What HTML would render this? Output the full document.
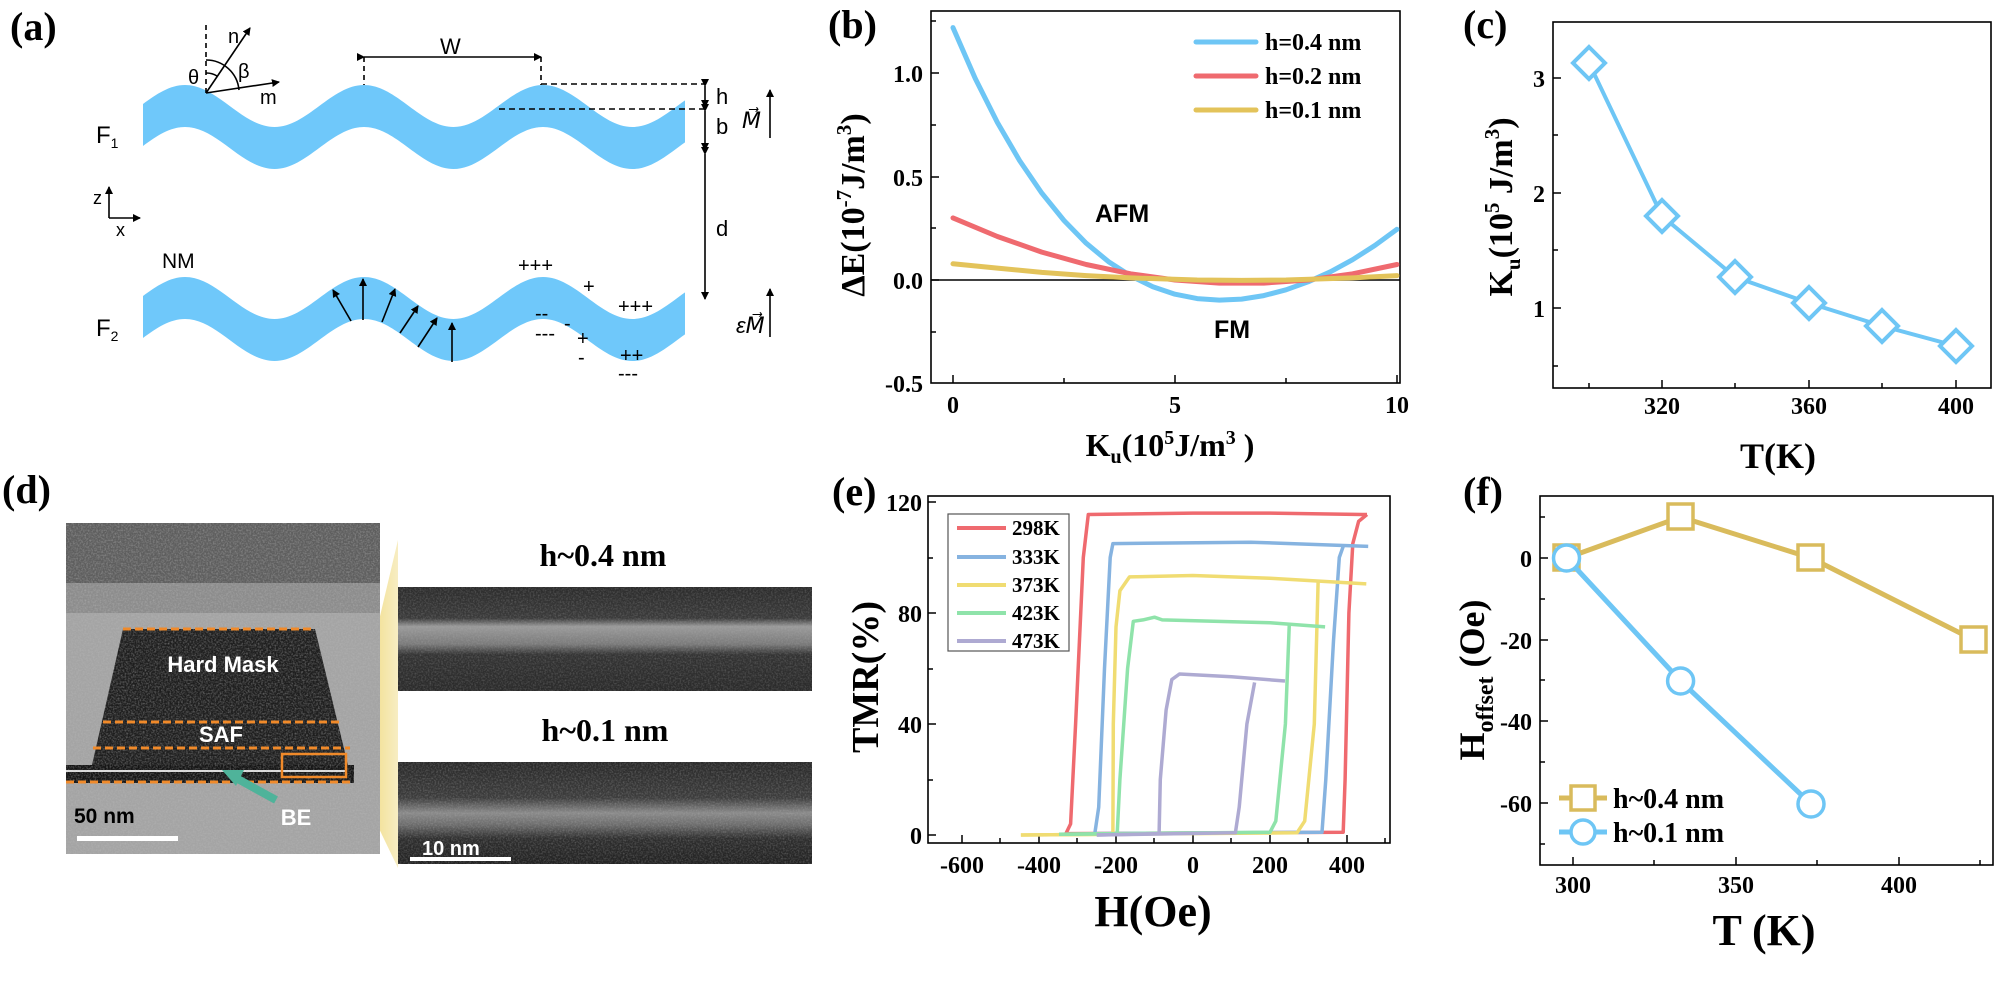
<!DOCTYPE html>
<html><head><meta charset="utf-8"><style>
html,body{margin:0;padding:0;background:#fff}
svg{display:block}
.s{font-family:"Liberation Serif",serif;font-weight:bold}
.a{font-family:"Liberation Sans",sans-serif}
</style></head><body>
<svg width="2000" height="982" viewBox="0 0 2000 982" xmlns="http://www.w3.org/2000/svg">
<defs>
<clipPath id="wc"><rect x="143" y="0" width="542" height="982"/></clipPath>
<marker id="ah" markerWidth="8" markerHeight="8" refX="7" refY="4" orient="auto" markerUnits="userSpaceOnUse"><path d="M0,0 L8,4 L0,8 Z" fill="#000"/></marker>
<filter id="nz" x="0" y="0" width="100%" height="100%"><feTurbulence type="fractalNoise" baseFrequency="0.6" numOctaves="2" seed="3"/><feColorMatrix type="matrix" values="0 0 0 0 0.5 0 0 0 0 0.5 0 0 0 0 0.5 0 0 0 -0.9 0.55"/></filter>
<linearGradient id="wedge" x1="0" y1="0" x2="1" y2="0"><stop offset="0" stop-color="#e8c840"/><stop offset="1" stop-color="#f6eab8"/></linearGradient>
<linearGradient id="img1" x1="0" y1="0" x2="0" y2="1"><stop offset="0" stop-color="#2c2c2c"/><stop offset="0.3" stop-color="#3a3a3a"/><stop offset="0.38" stop-color="#9a9a9a"/><stop offset="0.55" stop-color="#7a7a7a"/><stop offset="0.65" stop-color="#333"/><stop offset="1" stop-color="#2a2a2a"/></linearGradient>
<linearGradient id="img2" x1="0" y1="0" x2="0" y2="1"><stop offset="0" stop-color="#2a2a2a"/><stop offset="0.35" stop-color="#3c3c3c"/><stop offset="0.5" stop-color="#8a8a8a"/><stop offset="0.62" stop-color="#6a6a6a"/><stop offset="0.75" stop-color="#2e2e2e"/><stop offset="1" stop-color="#222"/></linearGradient>
<g id="wave"><path fill="#6fc8fa" d="M95.5,127 C128.1,127 152.5,85 185,85 C217.6,85 242,127 274.5,127 C307.1,127 331.5,85 364,85 C396.6,85 421,127 453.5,127 C486.1,127 510.5,85 543,85 C575.6,85 600,127 632.5,127 C665.1,127 689.5,85 722,85 L722,127 C689.4,127 665,169 632.5,169 C599.9,169 575.5,127 543,127 C510.4,127 486,169 453.5,169 C420.9,169 396.5,127 364,127 C331.4,127 307,169 274.5,169 C241.9,169 217.5,127 185,127 C152.4,127 128,169 95.5,169 Z"/></g>
</defs>

<!-- (a) -->
<text class="s" x="10" y="40" font-size="40">(a)</text>
<g clip-path="url(#wc)"><use href="#wave"/><use href="#wave" transform="translate(0,192)"/></g>
<g stroke="#000" stroke-width="1.6" fill="none">
<line x1="206" y1="93" x2="206" y2="23" stroke-dasharray="5,4"/>
<line x1="206" y1="93" x2="250" y2="28" marker-end="url(#ah)"/>
<line x1="206" y1="93" x2="279" y2="82" marker-end="url(#ah)"/>
<path d="M206,60 A33,33 0 0 1 239,90"/>
<path d="M206,73 A20,20 0 0 1 217,76"/>
<line x1="364" y1="57" x2="541" y2="57" marker-end="url(#ah)" marker-start="url(#ah)"/>
<line x1="364" y1="57" x2="364" y2="85" stroke-dasharray="5,4"/>
<line x1="541" y1="57" x2="541" y2="85" stroke-dasharray="5,4"/>
<line x1="541" y1="84" x2="705" y2="84" stroke-dasharray="6,4"/>
<line x1="499" y1="109" x2="705" y2="109" stroke-dasharray="6,4"/>
<line x1="705" y1="86" x2="705" y2="107" marker-end="url(#ah)" marker-start="url(#ah)"/>
<line x1="705" y1="111" x2="705" y2="150" marker-end="url(#ah)" marker-start="url(#ah)"/>
<line x1="705" y1="154" x2="705" y2="299" marker-end="url(#ah)" marker-start="url(#ah)"/>
<line x1="770" y1="138" x2="770" y2="90" marker-end="url(#ah)"/>
<line x1="770" y1="337" x2="770" y2="289" marker-end="url(#ah)"/>
<line x1="109" y1="218" x2="109" y2="187" marker-end="url(#ah)"/>
<line x1="109" y1="218" x2="140" y2="218" marker-end="url(#ah)"/>
<line x1="351" y1="321" x2="333" y2="290" marker-end="url(#ah)"/>
<line x1="363" y1="320" x2="363" y2="279" marker-end="url(#ah)"/>
<line x1="382" y1="322" x2="395" y2="289" marker-end="url(#ah)"/>
<line x1="400" y1="333" x2="418" y2="306" marker-end="url(#ah)"/>
<line x1="418" y1="347" x2="437" y2="318" marker-end="url(#ah)"/>
<line x1="452" y1="362" x2="452" y2="323" marker-end="url(#ah)"/>
</g>
<g class="a" font-size="20" fill="#000">
<text x="228" y="43">n</text><text x="260" y="104">m</text><text x="188" y="84">θ</text><text x="238" y="78">β</text>
<text x="440" y="54" font-size="22">W</text>
<text x="716" y="104" font-size="22">h</text><text x="716" y="134" font-size="22">b</text><text x="716" y="236" font-size="22">d</text>
<text x="742" y="128" font-size="22" font-style="italic">M⃗</text>
<text x="736" y="333" font-size="22" font-style="italic">εM⃗</text>
<text x="93" y="204" font-size="18">z</text><text x="116" y="236" font-size="18">x</text>
<text x="96" y="143" font-size="24">F<tspan font-size="14" dy="5">1</tspan></text>
<text x="96" y="336" font-size="24">F<tspan font-size="14" dy="5">2</tspan></text>
<text x="162" y="268" font-size="21">NM</text>
<text x="518" y="272">+++</text><text x="583" y="293">+</text><text x="618" y="313">+++</text>
<text x="535" y="320">--</text><text x="564" y="330">-</text><text x="535" y="340">---</text><text x="577" y="345">+</text>
<text x="620" y="362">++</text><text x="578" y="364">-</text><text x="618" y="380">---</text>
</g>

<!-- (b) -->
<text class="s" x="828" y="38" font-size="40">(b)</text>
<rect x="931" y="11" width="469" height="372" fill="none" stroke="#000" stroke-width="1.6"/>
<line x1="931" y1="280" x2="1400" y2="280" stroke="#000" stroke-width="1.6"/>
<g stroke="#000" stroke-width="1.5">
<line x1="931" y1="73" x2="939" y2="73"/><line x1="931" y1="177" x2="939" y2="177"/><line x1="931" y1="280" x2="939" y2="280"/>
<line x1="931" y1="125" x2="936" y2="125"/><line x1="931" y1="228" x2="936" y2="228"/><line x1="931" y1="332" x2="936" y2="332"/><line x1="931" y1="21" x2="936" y2="21"/>
<line x1="953" y1="383" x2="953" y2="375"/><line x1="1175" y1="383" x2="1175" y2="375"/><line x1="1397" y1="383" x2="1397" y2="375"/>
<line x1="1064" y1="383" x2="1064" y2="378"/><line x1="1286" y1="383" x2="1286" y2="378"/>
</g>
<g class="s" font-size="24" text-anchor="end">
<text x="923" y="82">1.0</text><text x="923" y="186">0.5</text><text x="923" y="289">0.0</text><text x="923" y="392">-0.5</text>
</g>
<g class="s" font-size="24" text-anchor="middle">
<text x="953" y="413">0</text><text x="1175" y="413">5</text><text x="1397" y="413">10</text>
</g>
<text class="s" x="1170" y="456" font-size="32" text-anchor="middle">K<tspan font-size="20" dy="7">u</tspan><tspan dy="-7">(10</tspan><tspan font-size="20" dy="-12">5</tspan><tspan dy="12">J/m</tspan><tspan font-size="20" dy="-12">3</tspan><tspan dy="12"> )</tspan></text>
<text class="s" transform="translate(864,205) rotate(-90)" font-size="34" text-anchor="middle">ΔE(10<tspan font-size="21" dy="-13">-7</tspan><tspan dy="13">J/m</tspan><tspan font-size="21" dy="-13">3</tspan><tspan dy="13">)</tspan></text>
<g fill="none" stroke-width="5" stroke-linejoin="round" stroke-linecap="round">
<polyline stroke="#6ec6f5" points="953,27.6 975.2,78.4 997.4,122.5 1019.6,160.6 1041.8,193.1 1064,220.5 1086.2,243.2 1108.4,261.6 1130.6,275.9 1152.8,286.7 1175,294.2 1197.2,298.6 1219.4,300.1 1241.6,299.1 1263.8,295.6 1286,289.8 1308.2,281.8 1330.4,271.8 1352.6,259.7 1374.8,245.5 1397,229.3"/>
<polyline stroke="#ef6a6f" points="953,217.9 997.4,236.5 1041.8,252.1 1086.2,264.5 1130.6,273.8 1175,280 1219.4,283.1 1263.8,283.1 1308.2,280 1352.6,273.8 1397,264.5"/>
<polyline stroke="#e3c35a" points="953,263.8 997.4,268.1 1041.8,272.4 1086.2,275.6 1130.6,277.9 1197.2,280 1241.6,280.4 1286,280 1352.6,277.9 1397,275.6"/>
<line stroke="#6ec6f5" x1="1196" y1="42" x2="1256" y2="42"/>
<line stroke="#ef6a6f" x1="1196" y1="76" x2="1256" y2="76"/>
<line stroke="#e3c35a" x1="1196" y1="110" x2="1256" y2="110"/>
</g>
<g class="s" font-size="24"><text x="1265" y="50">h=0.4 nm</text><text x="1265" y="84">h=0.2 nm</text><text x="1265" y="118">h=0.1 nm</text></g>
<text class="a" x="1095" y="222" font-size="25" font-weight="bold">AFM</text>
<text class="a" x="1214" y="338" font-size="25" font-weight="bold">FM</text>

<!-- (c) -->
<text class="s" x="1463" y="38" font-size="40">(c)</text>
<rect x="1553" y="22" width="438" height="366" fill="none" stroke="#000" stroke-width="1.6"/>
<g stroke="#000" stroke-width="1.5">
<line x1="1553" y1="78" x2="1561" y2="78"/><line x1="1553" y1="193" x2="1561" y2="193"/><line x1="1553" y1="308" x2="1561" y2="308"/>
<line x1="1553" y1="135" x2="1558" y2="135"/><line x1="1553" y1="250" x2="1558" y2="250"/><line x1="1553" y1="366" x2="1558" y2="366"/>
<line x1="1662" y1="388" x2="1662" y2="380"/><line x1="1809" y1="388" x2="1809" y2="380"/><line x1="1956" y1="388" x2="1956" y2="380"/>
<line x1="1589" y1="388" x2="1589" y2="383"/><line x1="1735" y1="388" x2="1735" y2="383"/><line x1="1882" y1="388" x2="1882" y2="383"/>
</g>
<g class="s" font-size="24" text-anchor="end"><text x="1545" y="87">3</text><text x="1545" y="202">2</text><text x="1545" y="317">1</text></g>
<g class="s" font-size="24" text-anchor="middle"><text x="1662" y="414">320</text><text x="1809" y="414">360</text><text x="1956" y="414">400</text></g>
<text class="s" x="1778" y="468" font-size="36" text-anchor="middle">T(K)</text>
<text class="s" transform="translate(1512,207) rotate(-90)" font-size="34" text-anchor="middle">K<tspan font-size="21" dy="8">u</tspan><tspan dy="-8">(10</tspan><tspan font-size="21" dy="-13">5</tspan><tspan dy="13"> J/m</tspan><tspan font-size="21" dy="-13">3</tspan><tspan dy="13">)</tspan></text>
<polyline fill="none" stroke="#6ec6f5" stroke-width="4" points="1589,63 1662,216 1735,277 1809,303 1882,326 1956,346"/>
<g fill="#fff" stroke="#6ec6f5" stroke-width="4">
<path d="M1589,47 L1605,63 L1589,79 L1573,63 Z"/><path d="M1662,200 L1678,216 L1662,232 L1646,216 Z"/>
<path d="M1735,261 L1751,277 L1735,293 L1719,277 Z"/><path d="M1809,287 L1825,303 L1809,319 L1793,303 Z"/>
<path d="M1882,310 L1898,326 L1882,342 L1866,326 Z"/><path d="M1956,330 L1972,346 L1956,362 L1940,346 Z"/>
</g>

<!-- (d) -->
<text class="s" x="2" y="503" font-size="40">(d)</text>
<polygon points="346,760 398,540 398,868" fill="url(#wedge)" opacity="0.85"/>
<rect x="66" y="523" width="314" height="331" fill="#a4a4a4"/>
<rect x="66" y="523" width="314" height="60" fill="#5e5e5e"/>
<rect x="66" y="583" width="314" height="30" fill="#8c8c8c"/>
<path d="M123,629 L315,629 L348,765 L92,765 Z" fill="#1e1e1e"/>
<rect x="66" y="765" width="288" height="18" fill="#141414"/>
<line x1="66" y1="771" x2="346" y2="771" stroke="#ddd" stroke-width="2"/>
<rect x="66" y="523" width="314" height="331" filter="url(#nz)"/>
<g stroke="#f08a2a" stroke-width="3" stroke-dasharray="8,4" fill="none">
<line x1="123" y1="629" x2="315" y2="629"/><line x1="103" y1="722" x2="342" y2="722"/>
<line x1="93" y1="748" x2="350" y2="748"/><line x1="66" y1="782" x2="353" y2="782"/>
</g>
<rect x="282" y="754" width="64" height="23" fill="none" stroke="#f08a2a" stroke-width="2.5"/>
<g class="a" font-weight="bold" fill="#fff">
<text x="223" y="672" font-size="22" text-anchor="middle">Hard Mask</text>
<text x="221" y="742" font-size="22" text-anchor="middle">SAF</text>
<text x="296" y="825" font-size="22" text-anchor="middle">BE</text>
</g>
<line x1="276" y1="800" x2="236" y2="778" stroke="#4fb39a" stroke-width="8"/>
<path d="M222,770 L244,770 L236,786 Z" fill="#4fb39a"/>
<text class="a" x="74" y="823" font-size="21" font-weight="bold" fill="#000">50 nm</text>
<rect x="77" y="836" width="101" height="5" fill="#fff"/>
<rect x="398" y="587" width="414" height="104" fill="url(#img1)"/>
<rect x="398" y="587" width="414" height="104" filter="url(#nz)" opacity="0.6"/>
<rect x="398" y="762" width="414" height="102" fill="url(#img2)"/>
<rect x="398" y="762" width="414" height="102" filter="url(#nz)" opacity="0.7"/>
<text class="a" x="422" y="855" font-size="20" font-weight="bold" fill="#fff">10 nm</text>
<rect x="410" y="857" width="101" height="4" fill="#fff"/>
<text class="s" x="603" y="566" font-size="32" text-anchor="middle">h~0.4 nm</text>
<text class="s" x="605" y="741" font-size="32" text-anchor="middle">h~0.1 nm</text>

<!-- (e) -->
<text class="s" x="832" y="505" font-size="40">(e)</text>
<rect x="928" y="496" width="462" height="347" fill="none" stroke="#000" stroke-width="1.6"/>
<g stroke="#000" stroke-width="1.5">
<line x1="928" y1="502" x2="936" y2="502"/><line x1="928" y1="613" x2="936" y2="613"/><line x1="928" y1="724" x2="936" y2="724"/><line x1="928" y1="835" x2="936" y2="835"/>
<line x1="928" y1="558" x2="933" y2="558"/><line x1="928" y1="669" x2="933" y2="669"/><line x1="928" y1="780" x2="933" y2="780"/>
<line x1="962" y1="843" x2="962" y2="835"/><line x1="1039" y1="843" x2="1039" y2="835"/><line x1="1116" y1="843" x2="1116" y2="835"/><line x1="1193" y1="843" x2="1193" y2="835"/><line x1="1270" y1="843" x2="1270" y2="835"/><line x1="1347" y1="843" x2="1347" y2="835"/>
<line x1="1000" y1="843" x2="1000" y2="838"/><line x1="1077" y1="843" x2="1077" y2="838"/><line x1="1154" y1="843" x2="1154" y2="838"/><line x1="1231" y1="843" x2="1231" y2="838"/><line x1="1308" y1="843" x2="1308" y2="838"/><line x1="1385" y1="843" x2="1385" y2="838"/>
</g>
<g class="s" font-size="24" text-anchor="end"><text x="922" y="511">120</text><text x="922" y="622">80</text><text x="922" y="733">40</text><text x="922" y="844">0</text></g>
<g class="s" font-size="24" text-anchor="middle"><text x="962" y="873">-600</text><text x="1039" y="873">-400</text><text x="1116" y="873">-200</text><text x="1193" y="873">0</text><text x="1270" y="873">200</text><text x="1347" y="873">400</text></g>
<text class="s" x="1153" y="926" font-size="44" text-anchor="middle">H(Oe)</text>
<text class="s" transform="translate(878,677) rotate(-90)" font-size="38" text-anchor="middle">TMR(%)</text>
<g fill="none" stroke-width="3.5" stroke-linejoin="round">
<g stroke="#ef6a6f"><polyline points="1065.9,833.6 1070.6,823.9 1075.6,724 1083.3,557.5 1088.3,514.5 1193,513.1 1270,513.1 1362.4,514.5 1367,514.5"/><polyline points="1065.9,833.6 1343.2,832.2 1345.1,779.5 1348.9,613 1352.8,543.6 1358.6,521.4 1367,514.5"/></g>
<g stroke="#86b3e0"><polyline points="1094.8,833.6 1098.7,807.3 1104.5,668.5 1110.2,557.5 1112.9,543.6 1250.8,542.2 1368.2,546.4"/><polyline points="1094.8,833.6 1322,832.2 1325.8,779.5 1333.5,640.8 1339.3,557.5 1343.2,546.4"/></g>
<g stroke="#f0dc72"><polyline points="1020.9,835 1112.9,834.2 1113.3,724 1116,626.9 1119.9,590.8 1129.5,576.9 1193,575.5 1270,578.3 1366.3,583.9"/><polyline points="1020.9,835 1297,832.8 1304.7,821.1 1314.3,724 1318.1,582.5"/></g>
<g stroke="#8fe3aa"><polyline points="1059,834.2 1117.2,833.6 1119.9,779.5 1127.6,668.5 1133.3,621.3 1143,619.9 1154.5,617.2 1162.2,619.9 1270,622.7 1325.1,626.9"/><polyline points="1059,834.2 1270,832.2 1275.8,821.1 1285.4,724 1289.3,624.1"/></g>
<g stroke="#aeaad2"><polyline points="1096.8,835 1159.1,833.6 1160.3,779.5 1166.1,710.1 1171.8,679.6 1179.5,674 1231.5,676.8 1285,681"/><polyline points="1096.8,835 1235.4,832.8 1239.2,807.3 1246.9,724 1254.6,682.4"/></g>
</g>
<rect x="948" y="514" width="121" height="137" fill="#fff" stroke="#555" stroke-width="1.2"/>
<g stroke-width="4"><line x1="957" y1="528" x2="1006" y2="528" stroke="#ef6a6f"/><line x1="957" y1="557" x2="1006" y2="557" stroke="#86b3e0"/><line x1="957" y1="585" x2="1006" y2="585" stroke="#f0dc72"/><line x1="957" y1="613" x2="1006" y2="613" stroke="#8fe3aa"/><line x1="957" y1="641" x2="1006" y2="641" stroke="#aeaad2"/></g>
<g class="s" font-size="21"><text x="1012" y="535">298K</text><text x="1012" y="564">333K</text><text x="1012" y="592">373K</text><text x="1012" y="620">423K</text><text x="1012" y="648">473K</text></g>

<!-- (f) -->
<text class="s" x="1463" y="505" font-size="40">(f)</text>
<rect x="1540" y="496" width="453" height="369" fill="none" stroke="#000" stroke-width="1.6"/>
<g stroke="#000" stroke-width="1.5">
<line x1="1540" y1="558" x2="1548" y2="558"/><line x1="1540" y1="640" x2="1548" y2="640"/><line x1="1540" y1="721" x2="1548" y2="721"/><line x1="1540" y1="803" x2="1548" y2="803"/>
<line x1="1540" y1="517" x2="1545" y2="517"/><line x1="1540" y1="599" x2="1545" y2="599"/><line x1="1540" y1="680" x2="1545" y2="680"/><line x1="1540" y1="762" x2="1545" y2="762"/><line x1="1540" y1="844" x2="1545" y2="844"/>
<line x1="1573" y1="865" x2="1573" y2="857"/><line x1="1736" y1="865" x2="1736" y2="857"/><line x1="1899" y1="865" x2="1899" y2="857"/>
<line x1="1654" y1="865" x2="1654" y2="860"/><line x1="1817" y1="865" x2="1817" y2="860"/><line x1="1980" y1="865" x2="1980" y2="860"/>
</g>
<g class="s" font-size="24" text-anchor="end"><text x="1532" y="567">0</text><text x="1532" y="649">-20</text><text x="1532" y="730">-40</text><text x="1532" y="812">-60</text></g>
<g class="s" font-size="24" text-anchor="middle"><text x="1573" y="893">300</text><text x="1736" y="893">350</text><text x="1899" y="893">400</text></g>
<text class="s" x="1764" y="945" font-size="44" text-anchor="middle">T (K)</text>
<text class="s" transform="translate(1484,680) rotate(-90)" font-size="36" text-anchor="middle">H<tspan font-size="24" dy="9">offset</tspan><tspan dy="-9"> (Oe)</tspan></text>
<polyline fill="none" stroke="#d9bb5c" stroke-width="5" points="1566.5,558 1680.6,517 1811,558 1974,640"/>
<g fill="#fff" stroke="#d9bb5c" stroke-width="3.5">
<rect x="1554" y="545" width="25" height="25"/><rect x="1668" y="504" width="25" height="25"/><rect x="1798" y="545" width="25" height="25"/><rect x="1961" y="627" width="25" height="25"/>
</g>
<polyline fill="none" stroke="#6ec6f5" stroke-width="5" points="1566.5,558 1680.6,681 1811,804"/>
<g fill="#fff" stroke="#6ec6f5" stroke-width="3.5">
<circle cx="1566.5" cy="558" r="13"/><circle cx="1680.6" cy="681" r="13"/><circle cx="1811" cy="804" r="13"/>
</g>
<line x1="1559" y1="798" x2="1607" y2="798" stroke="#d9bb5c" stroke-width="5"/>
<rect x="1571" y="786" width="24" height="24" fill="#fff" stroke="#d9bb5c" stroke-width="3.5"/>
<line x1="1559" y1="832" x2="1607" y2="832" stroke="#6ec6f5" stroke-width="5"/>
<circle cx="1583" cy="832" r="12" fill="#fff" stroke="#6ec6f5" stroke-width="3.5"/>
<g class="s" font-size="28"><text x="1613" y="808">h~0.4 nm</text><text x="1613" y="842">h~0.1 nm</text></g>
</svg>
</body></html>
